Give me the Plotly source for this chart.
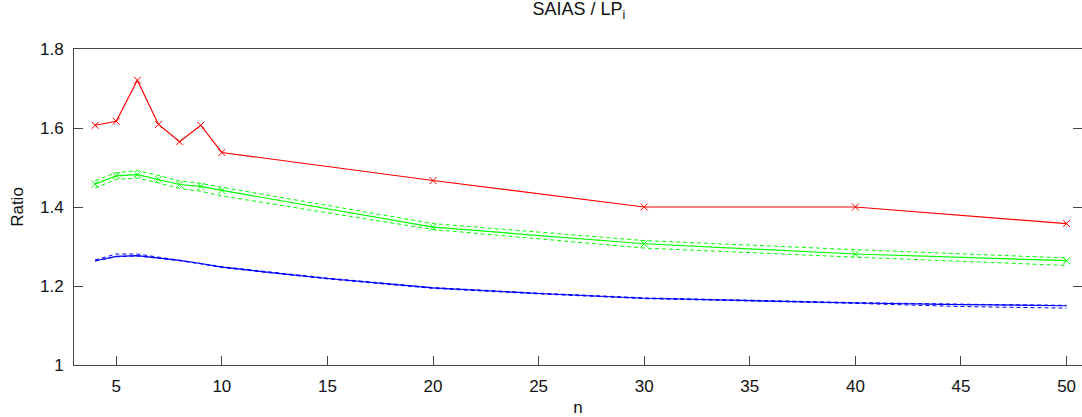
import plotly.graph_objects as go

# Red series (markers at every point)
red_n = [4, 5, 6, 7, 8, 9, 10, 20, 30, 40, 50]
red_val = [1.607, 1.617, 1.721, 1.609, 1.565, 1.607, 1.538, 1.467, 1.400, 1.400, 1.358]

# Green series: centre with markers, plus dashed bounds
green_n = [4, 5, 6, 7, 8, 9, 10, 20, 30, 40, 50]
green_val = [1.458, 1.479, 1.482, 1.470, 1.457, 1.452, 1.442, 1.349, 1.307, 1.281, 1.264]
green_up = [1.467, 1.487, 1.492, 1.480, 1.466, 1.460, 1.450, 1.358, 1.315, 1.292, 1.271]
green_lo = [1.448, 1.470, 1.473, 1.461, 1.447, 1.440, 1.428, 1.343, 1.296, 1.273, 1.252]

# Blue series: solid line and dashed bounds
blue_n = [4, 5, 6, 7, 8, 9, 10, 12, 15, 20, 25, 30, 35, 40, 45, 50]
blue_val = [1.264, 1.275, 1.277, 1.271, 1.265, 1.257, 1.248, 1.236, 1.219, 1.195, 1.181, 1.169, 1.163, 1.157, 1.153, 1.150]
blue_up = [1.266, 1.281, 1.281, 1.273, 1.266, 1.258, 1.249, 1.237, 1.220, 1.196, 1.182, 1.170, 1.164, 1.158, 1.154, 1.151]
blue_lo = [1.263, 1.274, 1.276, 1.270, 1.264, 1.256, 1.247, 1.235, 1.218, 1.194, 1.180, 1.168, 1.162, 1.156, 1.148, 1.144]

x_ticks = [5, 10, 15, 20, 25, 30, 35, 40, 45, 50]
y_ticks = [1, 1.2, 1.4, 1.6, 1.8]
y_tick_text = ["1", "1.2", "1.4", "1.6", "1.8"]

RED, GREEN, BLUE = "#FF0000", "#00FF00", "#0000FF"
DASH = "4px,3px"

fig = go.Figure()

fig.add_trace(go.Scatter(x=blue_n, y=blue_up, mode="lines",
                         line=dict(color=BLUE, width=1, dash=DASH)))
fig.add_trace(go.Scatter(x=blue_n, y=blue_lo, mode="lines",
                         line=dict(color=BLUE, width=1, dash=DASH)))
fig.add_trace(go.Scatter(x=blue_n, y=blue_val, mode="lines",
                         line=dict(color=BLUE, width=1.2)))

fig.add_trace(go.Scatter(x=green_n, y=green_up, mode="lines",
                         line=dict(color=GREEN, width=1, dash=DASH)))
fig.add_trace(go.Scatter(x=green_n, y=green_lo, mode="lines",
                         line=dict(color=GREEN, width=1, dash=DASH)))
fig.add_trace(go.Scatter(x=green_n, y=green_val, mode="lines+markers",
                         line=dict(color=GREEN, width=1.2),
                         marker=dict(symbol="x-thin", size=7,
                                     line=dict(color=GREEN, width=1))))

fig.add_trace(go.Scatter(x=red_n, y=red_val, mode="lines+markers",
                         line=dict(color=RED, width=1.2),
                         marker=dict(symbol="x-thin", size=7,
                                     line=dict(color=RED, width=1))))

FONT = "Liberation Sans, Arial, sans-serif"
axis_font = dict(family=FONT, size=17, color="#111111")

fig.update_layout(
    width=1082, height=417,
    margin=dict(l=74, r=0, t=49, b=52),
    paper_bgcolor="white", plot_bgcolor="white",
    showlegend=False,
    font=axis_font,
    title=dict(text="SAIAS / LP<sub>i</sub>", x=0.535, xanchor="center",
               y=0.978, yanchor="middle",
               font=dict(family=FONT, size=18, color="#111111")),
    xaxis=dict(range=[3, 50.73], tickvals=x_ticks, ticktext=[str(v) for v in x_ticks],
               showgrid=False, zeroline=False, showline=True, linecolor="#444444",
               linewidth=1, mirror=True, ticks="inside", ticklen=9, tickcolor="#444444",
               ticklabelstandoff=6,
               title=dict(text="n", standoff=6, font=axis_font)),
    yaxis=dict(range=[1, 1.8], tickvals=y_ticks, ticktext=y_tick_text,
               showgrid=False, zeroline=False, showline=True, linecolor="#444444",
               linewidth=1, mirror="ticks", ticks="inside", ticklen=9, tickcolor="#444444",
               ticklabelstandoff=6,
               title=dict(text="Ratio", standoff=12, font=axis_font)),
)

fig.write_html("out.html")
